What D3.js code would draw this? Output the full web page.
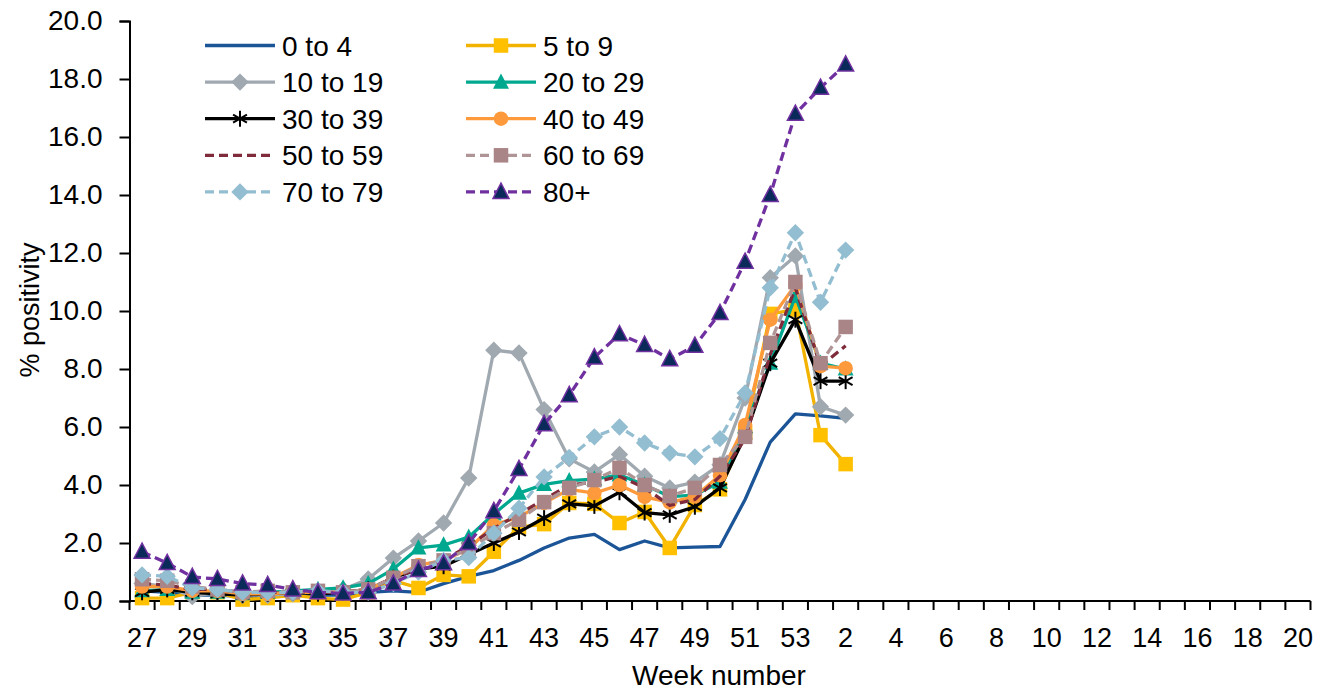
<!DOCTYPE html>
<html><head><meta charset="utf-8">
<script src="https://cdn.jsdelivr.net/npm/d3@7"></script>
<style>body{margin:0;background:#fff}svg{display:block}text{font-family:"Liberation Sans",Arial,sans-serif;fill:#000}</style>
</head><body><svg id="c" width="1330" height="693"></svg>
<script>
const weeks = ["27","28","29","30","31","32","33","34","35","36","37","38","39","40","41","42","43","44","45","46","47","48","49","50","51","52","53","1","2","3","4","5","6","7","8","9","10","11","12","13","14","15","16","17","18","19","20"];
const tickLabels = ["27","29","31","33","35","37","39","41","43","45","47","49","51","53","2","4","6","8","10","12","14","16","18","20"];
const yTicks = [0,2,4,6,8,10,12,14,16,18,20];
const dataWeeks = ["27","28","29","30","31","32","33","34","35","36","37","38","39","40","41","42","43","44","45","46","47","48","49","50","51","52","53","1","2"];

const s0to4   = [0.35,0.3,0.2,0.2,0.15,0.15,0.2,0.2,0.2,0.3,0.35,0.3,0.6,0.85,1.05,1.4,1.83,2.17,2.3,1.77,2.07,1.83,1.86,1.88,3.5,5.48,6.45,6.38,6.3];
const s5to9   = [0.1,0.1,0.3,0.3,0.05,0.1,0.2,0.1,0.05,0.3,0.7,0.45,0.9,0.85,1.7,2.55,2.65,3.38,3.35,2.69,3.07,1.83,3.31,3.85,5.8,9.9,10.05,5.72,4.72];
const s10to19 = [0.6,0.5,0.15,0.3,0.2,0.2,0.25,0.3,0.4,0.76,1.48,2.07,2.69,4.24,8.65,8.55,6.6,4.9,4.45,5.05,4.3,3.9,4.1,4.7,7.0,11.15,11.9,6.7,6.41];
const s20to29 = [0.35,0.4,0.3,0.3,0.25,0.3,0.35,0.4,0.45,0.6,1.1,1.83,1.93,2.2,3.0,3.72,4.02,4.15,4.2,4.35,4.0,3.6,3.65,4.1,6.0,8.2,10.5,8.2,8.0];
const s30to39 = [0.3,0.4,0.3,0.25,0.2,0.25,0.3,0.25,0.3,0.4,0.8,1.1,1.2,1.6,2.0,2.38,2.86,3.35,3.28,3.75,3.05,2.97,3.25,3.9,5.7,8.2,9.7,7.58,7.58];
const s40to49 = [0.5,0.5,0.35,0.35,0.25,0.25,0.3,0.3,0.3,0.4,0.8,1.24,1.4,1.8,2.62,2.9,3.38,3.85,3.72,4.0,3.59,3.4,3.6,4.34,6.07,9.7,10.9,8.1,8.03];
const s50to59 = [0.6,0.55,0.4,0.4,0.3,0.3,0.3,0.3,0.3,0.4,0.8,1.1,1.4,1.9,2.5,3.0,3.5,4.0,4.1,4.3,3.9,3.3,3.5,4.3,5.6,8.5,10.8,8.1,8.8];
const s60to69 = [0.75,0.7,0.5,0.4,0.3,0.35,0.3,0.35,0.3,0.4,0.8,1.2,1.4,1.8,2.34,2.8,3.41,3.9,4.17,4.59,4.0,3.62,3.9,4.69,5.66,8.9,11.0,8.2,9.45];
const s70to79 = [0.9,0.85,0.45,0.4,0.3,0.3,0.3,0.35,0.3,0.3,0.6,1.0,1.4,1.5,2.34,3.2,4.28,4.95,5.66,6.0,5.45,5.1,4.97,5.6,7.17,10.8,12.7,10.3,12.1];
const s80plus = [1.7,1.31,0.83,0.76,0.6,0.55,0.4,0.3,0.26,0.3,0.6,1.07,1.3,2.0,3.1,4.55,6.1,7.1,8.4,9.2,8.83,8.34,8.8,9.93,11.7,14.0,16.8,17.7,18.5];

const seriesNames = ["0 to 4","5 to 9","10 to 19","20 to 29","30 to 39","40 to 49","50 to 59","60 to 69","70 to 79","80+"];
const seriesValues = [s0to4,s5to9,s10to19,s20to29,s30to39,s40to49,s50to59,s60to69,s70to79,s80plus];
const styles = [
 {line:"#1B5597", dash:null, marker:null},
 {line:"#F2B200", dash:null, marker:"square", fill:"#FFC000"},
 {line:"#A0A8B0", dash:null, marker:"diamond", fill:"#A0A8B0"},
 {line:"#00A88F", dash:null, marker:"triangle", fill:"#00A88F"},
 {line:"#000000", dash:null, marker:"star", fill:"#000"},
 {line:"#FF9A3C", dash:null, marker:"circle", fill:"#FF9A3C"},
 {line:"#7F2B3B", dash:"9,5", marker:null},
 {line:"#B09596", dash:"9,5", marker:"square", fill:"#A98587"},
 {line:"#93BDD0", dash:"9,5", marker:"diamond", fill:"#93BDD0"},
 {line:"#7030A0", dash:"9,5", marker:"triangle", fill:"#0A2A5A", stroke:"#7030A0"}
];

const svg = d3.select("#c");
const L=129.5, R=1310.5, T=21, B=601;
const x = d3.scaleBand().domain(weeks).range([L,R]);
const y = d3.scaleLinear().domain([0,20]).range([B,T]);
const cx = w => x(w)+x.bandwidth()/2;

// y axis
const ya = svg.append("g").attr("transform",`translate(${L},0)`)
  .call(d3.axisLeft(y).tickValues(yTicks).tickFormat(d3.format(".1f")).tickSize(10).tickPadding(17));
ya.select(".domain").attr("stroke","#000").attr("stroke-width",2);
ya.selectAll(".tick line").attr("stroke","#000").attr("stroke-width",2);
ya.selectAll("text").style("font-size","28px").attr("fill","#000");

// x axis
const xa = svg.append("g").attr("transform",`translate(0,${B})`);
xa.append("line").attr("x1",L).attr("x2",R).attr("stroke","#000").attr("stroke-width",2);
const bounds = weeks.map(w=>x(w)).concat([R]);
xa.selectAll("line.t").data(bounds).join("line").attr("class","t")
  .attr("x1",d=>d).attr("x2",d=>d).attr("y1",0).attr("y2",9).attr("stroke","#000").attr("stroke-width",2);
xa.selectAll("text").data(tickLabels).join("text")
  .attr("x",d=>cx(d)).attr("y",46).attr("text-anchor","middle").style("font-size","27px").text(d=>d);

svg.append("text").attr("x",719).attr("y",685).attr("text-anchor","middle").style("font-size","28px").text("Week number");
svg.append("text").attr("transform","translate(39,310) rotate(-90)").attr("text-anchor","middle").style("font-size","27px").text("% positivity");

function marker(g, type, st, size){
  const s=size;
  if(type==="square") g.append("rect").attr("x",-s/2).attr("y",-s/2).attr("width",s).attr("height",s).attr("fill",st.fill);
  else if(type==="diamond") g.append("path").attr("d",`M0,${-s*0.6}L${s*0.6},0L0,${s*0.6}L${-s*0.6},0Z`).attr("fill",st.fill);
  else if(type==="triangle") g.append("path").attr("d",`M0,${-s*0.6}L${s*0.55},${s*0.45}L${-s*0.55},${s*0.45}Z`).attr("fill",st.fill).attr("stroke",st.stroke||"none").attr("stroke-width",st.stroke?1.5:0);
  else if(type==="circle") g.append("circle").attr("r",s/2).attr("fill",st.fill);
  else if(type==="star"){
    const r=s*0.55;
    [0,60,120].forEach(a=>{const rad=a*Math.PI/180;
      g.append("line").attr("x1",-r*Math.sin(rad)).attr("y1",-r*Math.cos(rad)).attr("x2",r*Math.sin(rad)).attr("y2",r*Math.cos(rad)).attr("stroke","#000").attr("stroke-width",2);});
  }
}

const line = d3.line().x((d,i)=>cx(dataWeeks[i])).y(d=>y(d));
seriesValues.forEach((vals,k)=>{
  const st=styles[k];
  const g=svg.append("g");
  g.append("path").attr("d",line(vals)).attr("fill","none").attr("stroke",st.line).attr("stroke-width",3.3)
    .attr("stroke-dasharray",st.dash).attr("stroke-linejoin","round");
  if(st.marker){
    vals.forEach((v,i)=>{
      const m=g.append("g").attr("transform",`translate(${cx(dataWeeks[i])},${y(v)})`);
      marker(m,st.marker,st,14.5);
    });
  }
});

// legend
const lg = svg.append("g");
seriesNames.forEach((n,k)=>{
  const col=k%2, row=Math.floor(k/2);
  const x0 = col===0?205:466, yy = 45.5+row*36.6;
  const st=styles[k];
  lg.append("line").attr("x1",x0).attr("x2",x0+70).attr("y1",yy).attr("y2",yy).attr("stroke",st.line).attr("stroke-width",3.3).attr("stroke-dasharray",st.dash);
  if(st.marker){const m=lg.append("g").attr("transform",`translate(${x0+35},${yy})`); marker(m,st.marker,st,14.5);}
  lg.append("text").attr("x",x0+77).attr("y",yy+10).style("font-size","28px").text(n);
});
</script></body></html>
